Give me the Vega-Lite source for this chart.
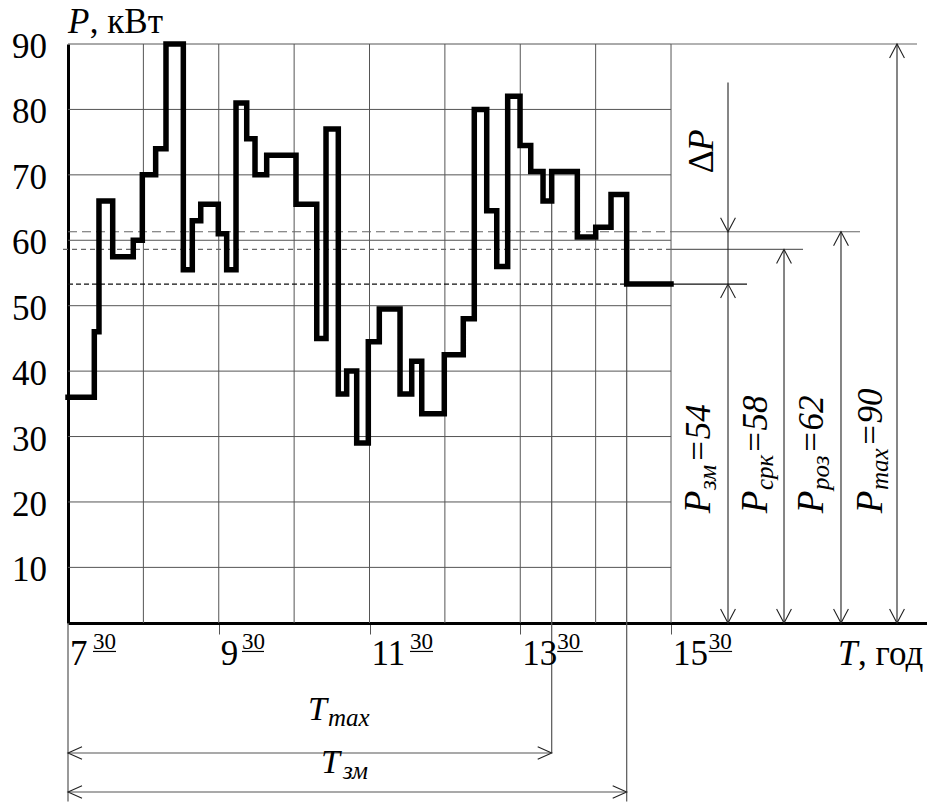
{
  "$schema": "https://vega.github.io/schema/vega-lite/v6.json",
  "width": 859,
  "height": 579,
  "autosize": {"type": "none"},
  "padding": {"left": 68, "top": 44, "right": 0, "bottom": 179},
  "background": "white",
  "config": {
    "view": {"stroke": null},
    "font": "Liberation Serif",
    "text": {"font": "Liberation Serif", "color": "#000"},
    "axisX": {"grid": false, "labels": false, "tickSize": 11, "tickColor": "#555", "tickWidth": 1, "domainColor": "#000", "domainWidth": 3},
    "axisY": {"grid": false, "ticks": false, "labels": false, "domainColor": "#000", "domainWidth": 3}
  },
  "datasets": {
    "load": [
      {"t": 7.5, "p": 36}, {"t": 7.849, "p": 46}, {"t": 7.911, "p": 66}, {"t": 8.093, "p": 57.5},
      {"t": 8.366, "p": 60}, {"t": 8.486, "p": 70}, {"t": 8.663, "p": 74}, {"t": 8.8, "p": 90},
      {"t": 9.03, "p": 55.5}, {"t": 9.149, "p": 63}, {"t": 9.261, "p": 65.5}, {"t": 9.494, "p": 61},
      {"t": 9.605, "p": 55.5}, {"t": 9.729, "p": 81}, {"t": 9.871, "p": 75.5}, {"t": 9.981, "p": 70},
      {"t": 10.136, "p": 73}, {"t": 10.525, "p": 65.5}, {"t": 10.8, "p": 45}, {"t": 10.923, "p": 77},
      {"t": 11.086, "p": 36.5}, {"t": 11.197, "p": 40}, {"t": 11.33, "p": 29}, {"t": 11.484, "p": 44.5},
      {"t": 11.63, "p": 49.5}, {"t": 11.905, "p": 36.5}, {"t": 12.06, "p": 41.5}, {"t": 12.193, "p": 33.5},
      {"t": 12.492, "p": 42.5}, {"t": 12.744, "p": 48}, {"t": 12.89, "p": 80}, {"t": 13.055, "p": 64.5},
      {"t": 13.188, "p": 56}, {"t": 13.333, "p": 82}, {"t": 13.497, "p": 74.5}, {"t": 13.639, "p": 70.5},
      {"t": 13.802, "p": 66}, {"t": 13.917, "p": 70.5}, {"t": 14.257, "p": 60.5}, {"t": 14.501, "p": 62},
      {"t": 14.704, "p": 67}, {"t": 14.912, "p": 53.3}, {"t": 15.5, "p": 53.3}
    ],
    "hgrid": [{"p": 10}, {"p": 20}, {"p": 30}, {"p": 40}, {"p": 50}, {"p": 60}, {"p": 70}, {"p": 80}, {"p": 90}],
    "vgrid": [{"t": 8.5}, {"t": 9.5}, {"t": 10.5}, {"t": 11.5}, {"t": 12.5}, {"t": 13.5}, {"t": 14.5}, {"t": 15.5}],
    "levels": [
      {"lvl": "роз", "p": 61.3, "t0": 7.5, "t1": 15.5},
      {"lvl": "срк", "p": 58.6, "t0": 7.434, "t1": 15.5},
      {"lvl": "зм", "p": 53.3, "t0": 7.5, "t1": 15.5}
    ],
    "ext": [
      {"lvl": "max", "p": 90, "t0": 15.5, "t1": 18.764},
      {"lvl": "роз", "p": 61.3, "t0": 15.5, "t1": 18.007},
      {"lvl": "срк", "p": 58.6, "t0": 15.5, "t1": 17.251},
      {"lvl": "зм", "p": 53.3, "t0": 15.5, "t1": 16.508}
    ],
    "vlines": [
      {"t": 16.256, "p1": 84.1, "p2": 1.5},
      {"t": 16.999, "p1": 58.6, "p2": 1.5},
      {"t": 17.755, "p1": 61.3, "p2": 1.5},
      {"t": 18.498, "p1": 90, "p2": 1.5}
    ],
    "drops": [
      {"t": 7.5, "p1": 1.5, "p2": -25.8},
      {"t": 13.917, "p1": 66, "p2": -18.37},
      {"t": 14.912, "p1": 53.3, "p2": -25.8}
    ],
    "tspans": [
      {"p": -18.37, "t0": 7.5, "t1": 13.917},
      {"p": -24.33, "t0": 7.5, "t1": 14.912}
    ],
    "heads": [
      {"t": 16.256, "p": 61.3, "dir": "down"}, {"t": 16.256, "p": 53.3, "dir": "up"}, {"t": 16.256, "p": 1.5, "dir": "down"},
      {"t": 16.999, "p": 58.6, "dir": "up"}, {"t": 16.999, "p": 1.5, "dir": "down"},
      {"t": 17.755, "p": 61.3, "dir": "up"}, {"t": 17.755, "p": 1.5, "dir": "down"},
      {"t": 18.498, "p": 90, "dir": "up"}, {"t": 18.498, "p": 1.5, "dir": "down"},
      {"t": 7.5, "p": -18.37, "dir": "left"}, {"t": 13.917, "p": -18.37, "dir": "right"},
      {"t": 7.5, "p": -24.33, "dir": "left"}, {"t": 14.912, "p": -24.33, "dir": "right"}
    ],
    "xlabels": [
      {"t": 7.5, "hr": "7", "st": 7.832, "se": 8.137},
      {"t": 9.5, "hr": "9", "st": 9.808, "se": 10.1},
      {"t": 11.5, "hr": "11", "st": 12.037, "se": 12.342},
      {"t": 13.5, "hr": "13", "st": 13.99, "se": 14.33},
      {"t": 15.5, "hr": "15", "st": 16.0, "se": 16.31}
    ],
    "plabels": [
      {"t": 16.017, "ym": 18.27, "ys": 21.83, "yr": 25.96, "sub": "зм", "rest": "=54"},
      {"t": 16.77, "ym": 18.27, "ys": 21.83, "yr": 27.33, "sub": "срк", "rest": "=58"},
      {"t": 17.517, "ym": 18.27, "ys": 21.83, "yr": 27.33, "sub": "роз", "rest": "=62"},
      {"t": 18.3, "ym": 18.27, "ys": 21.83, "yr": 28.4, "sub": "max", "rest": "=90"}
    ],
    "tlabels": [
      {"t": 10.685, "p": -13.33, "ts": 10.95, "ps": -14.24, "sub": "max"},
      {"t": 10.857, "p": -21.43, "ts": 11.148, "ps": -22.35, "sub": "зм"}
    ]
  },
  "layer": [
    {
      "data": {"name": "load"},
      "mark": {"type": "point", "opacity": 0, "size": 1},
      "encoding": {
        "x": {"field": "t", "type": "quantitative",
          "scale": {"domain": [7.5, 18.896], "nice": false, "zero": false},
          "axis": {"values": [9.5, 11.5, 13.5, 15.5], "title": null}},
        "y": {"field": "p", "type": "quantitative",
          "scale": {"domain": [1.5, 90], "nice": false, "zero": false},
          "axis": {"values": [10, 20, 30, 40, 50, 60, 70, 80, 90], "title": null}}
      }
    },
    {
      "data": {"name": "hgrid"},
      "mark": {"type": "rule", "color": "#555", "strokeWidth": 1},
      "encoding": {
        "y": {"field": "p", "type": "quantitative", "title": null},
        "x": {"datum": 7.5, "type": "quantitative", "title": null},
        "x2": {"datum": 15.5}
      }
    },
    {
      "data": {"name": "hgrid"},
      "mark": {"type": "text", "font": "Liberation Serif", "align": "right", "baseline": "middle", "fontSize": 35, "dx": -21, "dy": 3},
      "encoding": {
        "y": {"field": "p", "type": "quantitative", "title": null},
        "x": {"datum": 7.5, "type": "quantitative", "title": null},
        "text": {"field": "p"}
      }
    },
    {
      "data": {"name": "vgrid"},
      "mark": {"type": "rule", "color": "#555", "strokeWidth": 1},
      "encoding": {
        "x": {"field": "t", "type": "quantitative", "title": null},
        "y": {"datum": 1.5, "type": "quantitative", "title": null},
        "y2": {"datum": 90}
      }
    },
    {
      "data": {"name": "levels"},
      "mark": {"type": "rule", "strokeWidth": 1.2},
      "encoding": {
        "x": {"field": "t0", "type": "quantitative", "title": null},
        "x2": {"field": "t1"},
        "y": {"field": "p", "type": "quantitative", "title": null},
        "color": {"field": "lvl", "type": "nominal", "scale": {"domain": ["max", "роз", "срк", "зм"], "range": ["#666", "#666", "#666", "#111"]}, "legend": null},
        "strokeDash": {"field": "lvl", "type": "nominal", "scale": {"domain": ["роз", "срк", "зм"], "range": [[9, 5], [5, 4], [5, 3]]}, "legend": null}
      }
    },
    {
      "data": {"name": "ext"},
      "mark": {"type": "rule", "strokeWidth": 1.2},
      "encoding": {
        "x": {"field": "t0", "type": "quantitative", "title": null},
        "x2": {"field": "t1"},
        "y": {"field": "p", "type": "quantitative", "title": null},
        "color": {"field": "lvl", "type": "nominal", "legend": null}
      }
    },
    {
      "data": {"name": "drops"},
      "mark": {"type": "rule", "color": "#555", "strokeWidth": 1.2},
      "encoding": {
        "x": {"field": "t", "type": "quantitative", "title": null},
        "y": {"field": "p1", "type": "quantitative", "title": null},
        "y2": {"field": "p2"}
      }
    },
    {
      "data": {"name": "tspans"},
      "mark": {"type": "rule", "color": "#555", "strokeWidth": 1.2},
      "encoding": {
        "x": {"field": "t0", "type": "quantitative", "title": null},
        "x2": {"field": "t1"},
        "y": {"field": "p", "type": "quantitative", "title": null}
      }
    },
    {
      "data": {"name": "vlines"},
      "mark": {"type": "rule", "color": "#222", "strokeWidth": 1.1},
      "encoding": {
        "x": {"field": "t", "type": "quantitative", "title": null},
        "y": {"field": "p1", "type": "quantitative", "title": null},
        "y2": {"field": "p2"}
      }
    },
    {
      "data": {"name": "load"},
      "mark": {"type": "line", "interpolate": "step-after", "color": "#000", "strokeWidth": 5.5, "strokeJoin": "miter", "strokeCap": "square"},
      "encoding": {
        "x": {"field": "t", "type": "quantitative", "title": null},
        "y": {"field": "p", "type": "quantitative", "title": null}
      }
    },
    {
      "data": {"name": "heads"},
      "mark": {"type": "point", "filled": false, "color": "#222", "strokeWidth": 1.1, "size": 784, "opacity": 1},
      "encoding": {
        "x": {"field": "t", "type": "quantitative", "title": null},
        "y": {"field": "p", "type": "quantitative", "title": null},
        "shape": {"field": "dir", "type": "nominal", "legend": null,
          "scale": {"domain": ["up", "down", "left", "right"],
            "range": ["M-0.53,1L0,0L0.53,1", "M-0.53,-1L0,0L0.53,-1", "M1,-0.45L0,0L1,0.45", "M-1,-0.45L0,0L-1,0.45"]}}
      }
    },
    {
      "data": {"name": "xlabels"},
      "mark": {"type": "text", "font": "Liberation Serif", "align": "left", "baseline": "alphabetic", "fontSize": 35, "dx": 2},
      "encoding": {
        "x": {"field": "t", "type": "quantitative", "title": null},
        "y": {"datum": -4.92, "type": "quantitative", "title": null},
        "text": {"field": "hr"}
      }
    },
    {
      "data": {"name": "xlabels"},
      "mark": {"type": "text", "font": "Liberation Serif", "align": "left", "baseline": "alphabetic", "fontSize": 23},
      "encoding": {
        "x": {"field": "st", "type": "quantitative", "title": null},
        "y": {"datum": -2.47, "type": "quantitative", "title": null},
        "text": {"value": "30"}
      }
    },
    {
      "data": {"name": "xlabels"},
      "mark": {"type": "rule", "color": "#000", "strokeWidth": 1.2},
      "encoding": {
        "x": {"field": "st", "type": "quantitative", "title": null},
        "x2": {"field": "se"},
        "y": {"datum": -2.85, "type": "quantitative", "title": null}
      }
    },
    {
      "data": {"name": "plabels"},
      "mark": {"type": "text", "font": "Liberation Serif", "align": "left", "baseline": "alphabetic", "fontSize": 37, "fontStyle": "italic", "angle": 270},
      "encoding": {
        "x": {"field": "t", "type": "quantitative", "title": null},
        "y": {"field": "ym", "type": "quantitative", "title": null},
        "text": {"value": "P"}
      }
    },
    {
      "data": {"name": "plabels"},
      "mark": {"type": "text", "font": "Liberation Serif", "align": "left", "baseline": "alphabetic", "fontSize": 25, "fontStyle": "italic", "angle": 270, "dy": 6},
      "encoding": {
        "x": {"field": "t", "type": "quantitative", "title": null},
        "y": {"field": "ys", "type": "quantitative", "title": null},
        "text": {"field": "sub"}
      }
    },
    {
      "data": {"name": "plabels"},
      "mark": {"type": "text", "font": "Liberation Serif", "align": "left", "baseline": "alphabetic", "fontSize": 35, "fontStyle": "italic", "angle": 270},
      "encoding": {
        "x": {"field": "t", "type": "quantitative", "title": null},
        "y": {"field": "yr", "type": "quantitative", "title": null},
        "text": {"field": "rest"}
      }
    },
    {
      "data": {"values": [{"t": 16.061, "p": 70.24, "s": "Δ"}]},
      "mark": {"type": "text", "font": "Liberation Serif", "align": "left", "baseline": "alphabetic", "fontSize": 36, "angle": 270},
      "encoding": {
        "x": {"field": "t", "type": "quantitative", "title": null},
        "y": {"field": "p", "type": "quantitative", "title": null},
        "text": {"field": "s"}
      }
    },
    {
      "data": {"values": [{"t": 16.061, "p": 73.6, "s": "P"}]},
      "mark": {"type": "text", "font": "Liberation Serif", "align": "left", "baseline": "alphabetic", "fontSize": 36, "fontStyle": "italic", "angle": 270},
      "encoding": {
        "x": {"field": "t", "type": "quantitative", "title": null},
        "y": {"field": "p", "type": "quantitative", "title": null},
        "text": {"field": "s"}
      }
    },
    {
      "data": {"name": "tlabels"},
      "mark": {"type": "text", "font": "Liberation Serif", "align": "left", "baseline": "alphabetic", "fontSize": 34, "fontStyle": "italic"},
      "encoding": {
        "x": {"field": "t", "type": "quantitative", "title": null},
        "y": {"field": "p", "type": "quantitative", "title": null},
        "text": {"value": "T"}
      }
    },
    {
      "data": {"name": "tlabels"},
      "mark": {"type": "text", "font": "Liberation Serif", "align": "left", "baseline": "alphabetic", "fontSize": 25, "fontStyle": "italic"},
      "encoding": {
        "x": {"field": "ts", "type": "quantitative", "title": null},
        "y": {"field": "ps", "type": "quantitative", "title": null},
        "text": {"field": "sub"}
      }
    },
    {
      "data": {"values": [{"t": 7.5, "p": 91.7, "s": "P"}, {"t": 17.716, "p": -4.92, "s": "T"}]},
      "mark": {"type": "text", "font": "Liberation Serif", "align": "left", "baseline": "alphabetic", "fontSize": 35, "fontStyle": "italic"},
      "encoding": {
        "x": {"field": "t", "type": "quantitative", "title": null},
        "y": {"field": "p", "type": "quantitative", "title": null},
        "text": {"field": "s"}
      }
    },
    {
      "data": {"values": [{"t": 7.79, "p": 91.7, "s": ", кВт"}, {"t": 17.981, "p": -4.92, "s": ", год"}]},
      "mark": {"type": "text", "font": "Liberation Serif", "align": "left", "baseline": "alphabetic", "fontSize": 35},
      "encoding": {
        "x": {"field": "t", "type": "quantitative", "title": null},
        "y": {"field": "p", "type": "quantitative", "title": null},
        "text": {"field": "s"}
      }
    }
  ]
}
